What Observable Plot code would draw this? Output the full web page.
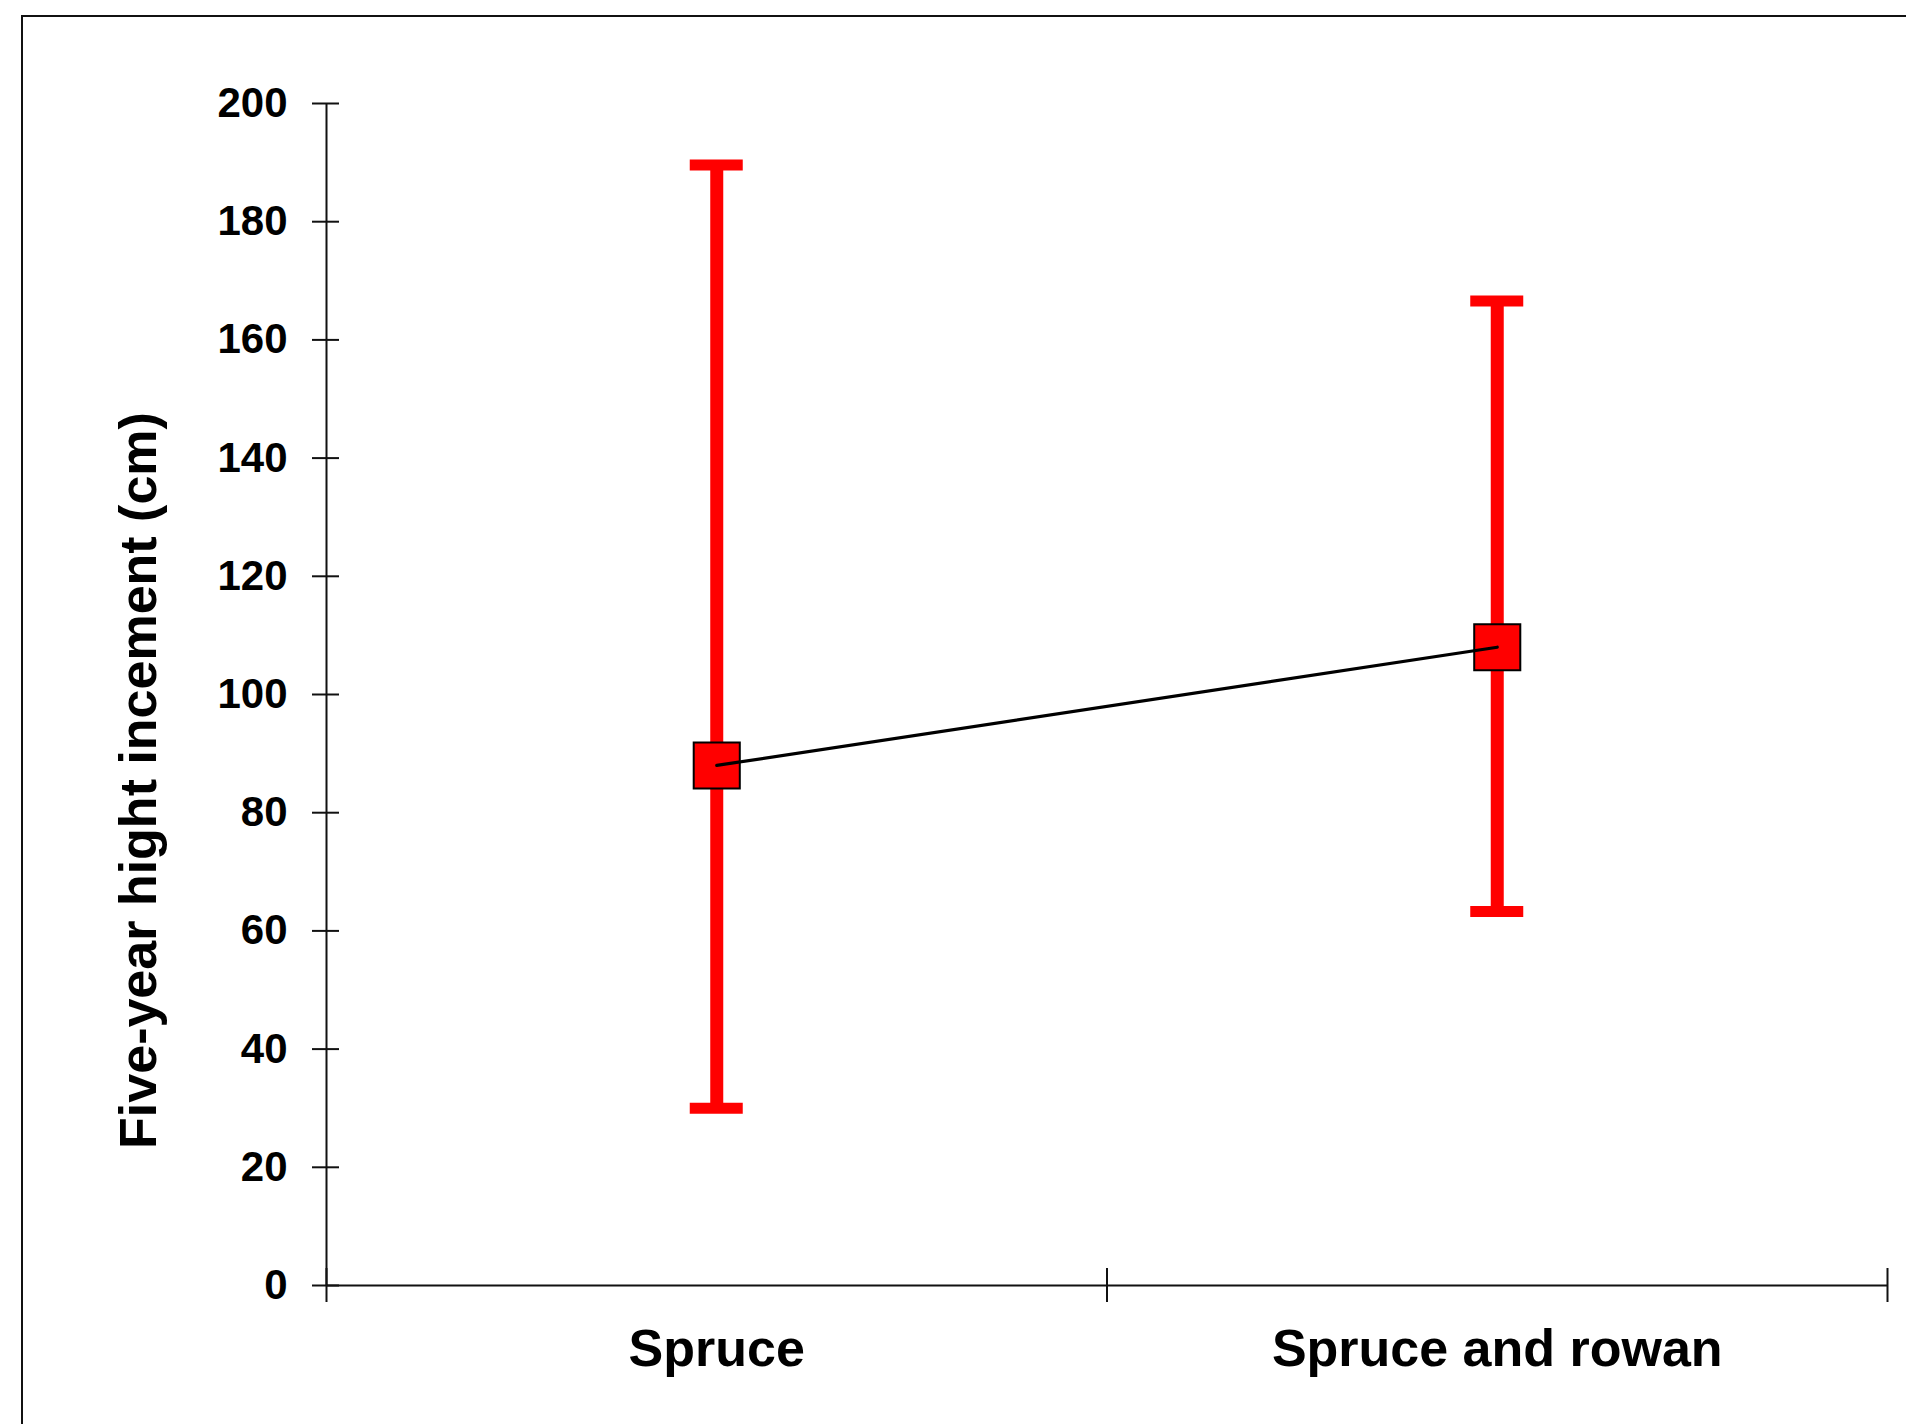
<!DOCTYPE html>
<html>
<head>
<meta charset="utf-8">
<script src="https://cdn.jsdelivr.net/npm/d3@7"></script>
<script src="https://cdn.jsdelivr.net/npm/@observablehq/plot@0.6"></script>
<style>
  html, body { margin: 0; padding: 0; background: #fff; overflow: hidden; }
  #wrap { position: relative; width: 1906px; height: 1424px; }
  #border { position: absolute; left: 21px; top: 15px; width: 2000px; height: 2000px; border: 2px solid #111; pointer-events: none; }
</style>
</head>
<body>
<div id="wrap"><div id="border"></div></div>
<script>
const categories = ["Spruce", "Spruce and rowan"];
const means = [88, 108];
const lower = [30, 63.3];
const upper = [189.6, 166.6];
const yTicks = [0, 20, 40, 60, 80, 100, 120, 140, 160, 180, 200];
const yTitle = "Five-year hight incement (cm)";

const data = categories.map((c, i) => ({cat: c, x: i + 0.5, mean: means[i], lo: lower[i], hi: upper[i]}));

const W = 1906, H = 1424;
const mL = 326, mR = 19, mT = 103, mB = 139;
const pxPerUnit = (W - mL - mR) / categories.length;
const capHalf = 26.5 / pxPerUnit;
const font = "'Liberation Sans', Arial, sans-serif";

const chart = Plot.plot({
  width: W,
  height: H,
  marginLeft: mL,
  marginRight: mR,
  marginTop: mT,
  marginBottom: mB,
  style: {background: "transparent", fontFamily: font, color: "#000"},
  x: {type: "linear", domain: [0, categories.length]},
  y: {domain: [0, 200]},
  marks: [
    Plot.ruleX([0], {x: 0, y1: 0, y2: 200, stroke: "#111", strokeWidth: 2}),
    Plot.ruleY([0], {y: 0, x1: 0, x2: categories.length, stroke: "#111", strokeWidth: 2}),
    Plot.axisY({ticks: yTicks, tickSize: 27, dx: 13, tickPadding: 25, fontSize: 42, fontWeight: "bold", strokeWidth: 2, stroke: "#111", label: null, tickFormat: d => String(d)}),
    Plot.axisX({ticks: d3.range(categories.length + 1), tickSize: 34, dy: -17, strokeWidth: 2, stroke: "#111", tickFormat: () => "", label: null}),
    Plot.axisX({ticks: data.map(d => d.x), tickSize: 0, tickPadding: 44, fontSize: 52, fontWeight: "bold", tickFormat: v => categories[Math.floor(v)], label: null}),
    Plot.text([yTitle], {frameAnchor: "left", textAnchor: "middle", lineAnchor: "middle", rotate: -90, dx: 139 - mL, dy: 780 - (mT + (H - mB)) / 2, fontSize: 52, fontWeight: "bold", fill: "#000", text: d => d}),
    Plot.ruleX(data, {x: "x", y1: "lo", y2: "hi", stroke: "#ff0000", strokeWidth: 13}),
    Plot.ruleY(data, {y: "hi", x1: d => d.x - capHalf, x2: d => d.x + capHalf, stroke: "#ff0000", strokeWidth: 11}),
    Plot.ruleY(data, {y: "lo", x1: d => d.x - capHalf, x2: d => d.x + capHalf, stroke: "#ff0000", strokeWidth: 11}),
    Plot.dot(data, {x: "x", y: "mean", symbol: "square", r: 26, fill: "#ff0000", stroke: "#000", strokeWidth: 2}),
    Plot.line(data, {x: "x", y: "mean", stroke: "#000", strokeWidth: 3.2})
  ]
});
chart.style.position = "absolute";
chart.style.left = "0px";
chart.style.top = "0px";
document.getElementById("wrap").insertBefore(chart, document.getElementById("border"));
</script>
</body>
</html>
